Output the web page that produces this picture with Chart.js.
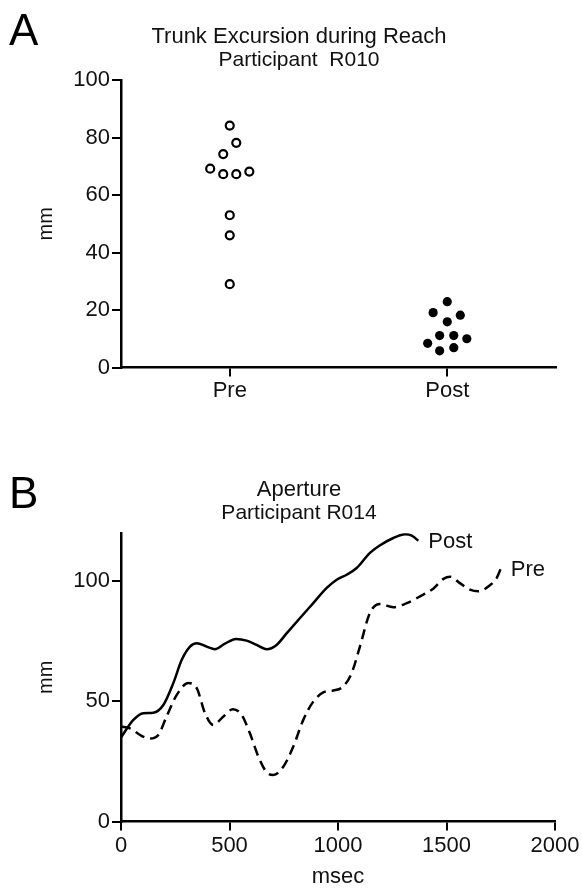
<!DOCTYPE html>
<html>
<head>
<meta charset="utf-8">
<script src="https://cdn.jsdelivr.net/npm/chart.js@4.4.1/dist/chart.umd.min.js"></script>
<style>
  body { margin: 0; background: #fff; }
  canvas { display: block; }
</style>
</head>
<body>
<canvas id="trunkChart" width="582" height="445"></canvas>
<canvas id="apertureChart" width="582" height="445"></canvas>
<script>
// Panel A: trunk excursion, one dot per reach
const categories = ['Pre', 'Post'];
const categoryPos = [1, 3];
const preX = [1, 1.06, 0.94, 0.82, 0.94, 1.06, 1.18, 1, 1, 1];
const preY = [84.2, 78.2, 74.3, 69.2, 67.3, 67.3, 68.2, 53, 46, 29];
const postX = [3, 2.87, 3.12, 3, 2.93, 3.06, 3.18, 2.82, 2.93, 3.06];
const postY = [22.9, 19.1, 18.2, 15.9, 11.1, 11.1, 10, 8.4, 5.8, 6.9];
const trunkYTicks = [0, 20, 40, 60, 80, 100];

// Panel B: aperture traces
const postMsec = [0, 57, 103, 149, 195, 241, 280, 318, 349, 395, 433, 479, 530, 579, 625, 671, 717,
  764, 825, 886, 948, 994, 1040, 1086, 1147, 1194, 1255, 1309, 1340, 1370];
const postMm = [35, 42.3, 45.1, 45.3, 48.5, 57.6, 67.3, 72.8, 74.2, 72.8, 71.7, 74, 76, 75.3, 73.5, 71.7, 73.5,
  78.4, 84.7, 90.9, 97.2, 100.6, 102.7, 105.5, 111.8, 115, 118, 119.6, 119, 116.9];
const preMsec = [0, 41, 88, 134, 172, 210, 257, 310, 349, 387, 425, 472, 515, 556, 594, 633, 671, 702,
  748, 794, 840, 886, 932, 978, 1024, 1063, 1101, 1147, 1194, 1255, 1317, 1378, 1439, 1486, 1516,
  1562, 1608, 1647, 1700, 1731, 1750];
const preMm = [39.5, 38.8, 36, 34.5, 36, 43.7, 52.7, 57.6, 55.5, 45.1, 40.2, 43.7, 46.7, 44.4, 36.7, 27, 20.5, 19.4,
  22.8, 31.2, 42.3, 49.9, 53.7, 54.5, 56.2, 61.8, 72.8, 86.8, 90.5, 89.2, 90.9, 93.7, 96.9, 101, 101.9,
  99.2, 96.5, 95.8, 98.3, 101.3, 105.2];
const apertureYTicks = [0, 50, 100];
const msecTicks = [0, 500, 1000, 1500, 2000];

const FONT = "'Liberation Sans', Arial, sans-serif";
Chart.defaults.font.family = FONT;
Chart.defaults.color = '#111';

function toPoints(xs, ys) {
    return xs.map((x, i) => ({ x: x, y: ys[i] }));
}

// big "A" / "B" in the corner
const panelLetter = {
    id: 'panelLetter',
    afterDraw(chart, args, opts) {
        const ctx = chart.ctx;
        ctx.save();
        ctx.font = '44px ' + FONT;
        ctx.fillStyle = '#000';
        ctx.textBaseline = 'alphabetic';
        ctx.fillText(opts.text, 9, opts.y);
        ctx.restore();
    }
};

// "Post" / "Pre" written at the end of each trace
const endLabels = {
    id: 'endLabels',
    afterDatasetsDraw(chart) {
        const ctx = chart.ctx;
        ctx.save();
        ctx.font = '22px ' + FONT;
        ctx.fillStyle = '#111';
        ctx.textBaseline = 'middle';
        chart.data.datasets.forEach((ds, i) => {
            const pts = chart.getDatasetMeta(i).data;
            const last = pts[pts.length - 1];
            ctx.fillText(ds.label, last.x + 10, last.y + 1);
        });
        ctx.restore();
    }
};

function axisStyle(extra) {
    return Object.assign({
        border: { display: true, color: '#000', width: 2.5 },
        grid: { display: true, drawOnChartArea: false, drawTicks: true, tickLength: 9, color: '#000', lineWidth: 2 },
        ticks: { font: { size: 22 }, color: '#111', padding: 2, callback: (v) => String(v) }
    }, extra);
}

new Chart(document.getElementById('trunkChart'), {
    type: 'scatter',
    data: {
        datasets: [{
            label: 'Pre',
            data: toPoints(preX, preY),
            pointRadius: 4,
            pointBorderWidth: 2.2,
            pointBackgroundColor: '#fff',
            pointBorderColor: '#000'
        }, {
            label: 'Post',
            data: toPoints(postX, postY),
            pointRadius: 4.6,
            pointBorderWidth: 0,
            pointBackgroundColor: '#000',
            pointBorderColor: '#000'
        }]
    },
    options: {
        responsive: false,
        animation: false,
        layout: { padding: { left: 42, right: 26, top: 0, bottom: 0 } },
        plugins: {
            legend: { display: false },
            tooltip: { enabled: false },
            title: {
                display: true,
                text: 'Trunk Excursion during Reach',
                font: { size: 22, weight: 'normal', lineHeight: 1 },
                color: '#111',
                padding: { top: 26, bottom: 0 }
            },
            subtitle: {
                display: true,
                text: 'Participant  R010',
                font: { size: 21, lineHeight: 1.2 },
                color: '#111',
                padding: { top: 0, bottom: 7 }
            },
            panelLetter: { text: 'A', y: 45 }
        },
        scales: {
            x: axisStyle({
                type: 'linear',
                min: 0,
                max: 4,
                afterBuildTicks: (axis) => { axis.ticks = categoryPos.map(v => ({ value: v })); },
                afterFit: (scale) => { scale.height = 77.5; },
                ticks: {
                    font: { size: 22 }, color: '#111', padding: 1,
                    callback: (value) => categories[categoryPos.indexOf(value)]
                }
            }),
            y: axisStyle({
                min: 0,
                max: 100,
                afterBuildTicks: (axis) => { axis.ticks = trunkYTicks.map(v => ({ value: v })); },
                afterFit: (scale) => { scale.width = 79; },
                title: { display: true, text: 'mm', font: { size: 20 }, color: '#111', padding: { top: -8, bottom: 0 } }
            })
        }
    },
    plugins: [panelLetter]
});

new Chart(document.getElementById('apertureChart'), {
    type: 'line',
    data: {
        datasets: [{
            label: 'Post',
            data: toPoints(postMsec, postMm),
            borderColor: '#000',
            borderWidth: 2.5,
            pointRadius: 0,
            cubicInterpolationMode: 'monotone',
            fill: false
        }, {
            label: 'Pre',
            data: toPoints(preMsec, preMm),
            borderColor: '#000',
            borderWidth: 2.5,
            borderDash: [10, 6],
            pointRadius: 0,
            cubicInterpolationMode: 'monotone',
            fill: false
        }]
    },
    options: {
        responsive: false,
        animation: false,
        layout: { padding: { left: 43, right: 27, top: 0, bottom: 0 } },
        plugins: {
            legend: { display: false },
            tooltip: { enabled: false },
            title: {
                display: true,
                text: 'Aperture',
                font: { size: 22, weight: 'normal', lineHeight: 1 },
                color: '#111',
                padding: { top: 34, bottom: 0 }
            },
            subtitle: {
                display: true,
                text: 'Participant R014',
                font: { size: 21, lineHeight: 1.2 },
                color: '#111',
                padding: { top: 0, bottom: 7 }
            },
            panelLetter: { text: 'B', y: 63 }
        },
        scales: {
            x: axisStyle({
                type: 'linear',
                min: 0,
                max: 2000,
                afterBuildTicks: (axis) => { axis.ticks = msecTicks.map(v => ({ value: v })); },
                afterFit: (scale) => { scale.height = 68.5; },
                title: { display: true, text: 'msec', font: { size: 22 }, color: '#111', padding: { top: 0, bottom: 0 } }
            }),
            y: axisStyle({
                min: 0,
                max: 120,
                afterBuildTicks: (axis) => { axis.ticks = apertureYTicks.map(v => ({ value: v })); },
                afterFit: (scale) => { scale.width = 78; },
                title: { display: true, text: 'mm', font: { size: 20 }, color: '#111', padding: { top: -9, bottom: 0 } }
            })
        }
    },
    plugins: [panelLetter, endLabels]
});
</script>
</body>
</html>
